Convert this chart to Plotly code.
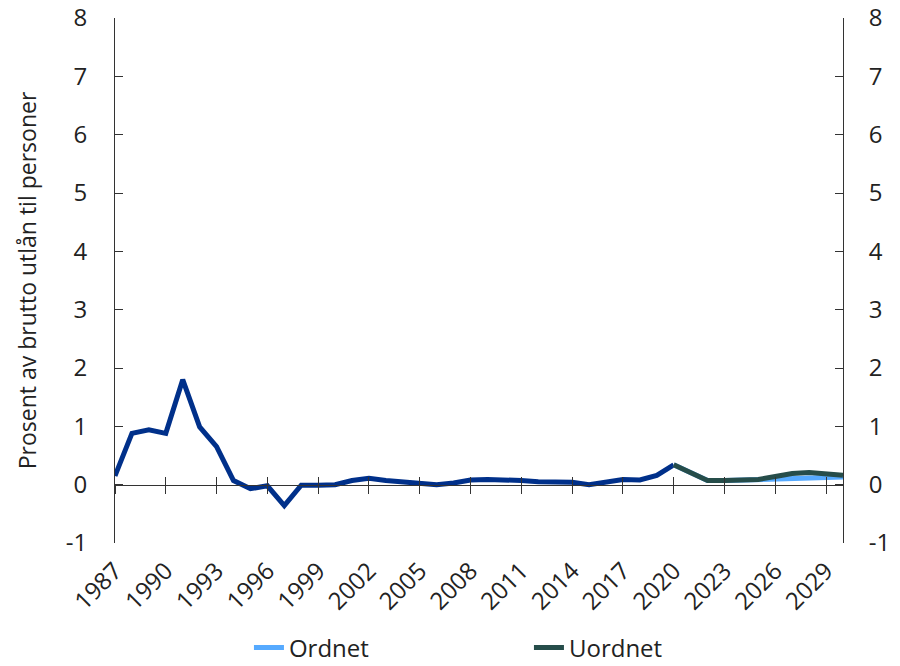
import plotly.graph_objects as go

# Historical loss rate, 1987-2020
hist_years = list(range(1987, 2021))
hist_values = [0.15, 0.88, 0.94, 0.88, 1.80, 0.99, 0.65, 0.07, -0.07, -0.02,
               -0.36, -0.01, -0.01, 0.00, 0.07, 0.11, 0.07, 0.05, 0.04, 0.00,
               0.03, 0.08, 0.09, 0.09, 0.07, 0.05, 0.05, 0.04, 0.00, 0.05,
               0.09, 0.08, 0.16, 0.34]

# Projection scenarios, 2020-2030
proj_years = list(range(2020, 2031))
ordnet = [0.34, 0.20, 0.07, 0.07, 0.08, 0.08, 0.10, 0.12, 0.13, 0.13, 0.13]
uordnet = [0.34, 0.20, 0.07, 0.07, 0.08, 0.09, 0.14, 0.19, 0.21, 0.19, 0.16]

tick_years = list(range(1987, 2030, 3))
tick_labels = [str(y) for y in tick_years]
y_ticks = list(range(-1, 9))
y_labels = [str(v) for v in y_ticks]   # plain hyphen for "-1"

FONT = "Open Sans"
AXIS = "#333333"
FS = 24

fig = go.Figure()
fig.add_trace(go.Scatter(x=hist_years, y=hist_values, mode="lines",
                         line=dict(color="#00308A", width=5),
                         showlegend=False, hoverinfo="skip"))
fig.add_trace(go.Scatter(x=proj_years, y=ordnet, mode="lines", name="Ordnet",
                         line=dict(color="#56AAFF", width=5)))
fig.add_trace(go.Scatter(x=proj_years, y=uordnet, mode="lines", name="Uordnet",
                         line=dict(color="#264D4A", width=5)))

x_common = dict(range=[1987, 2030], tickvals=tick_years, showgrid=False,
                zeroline=False, automargin=False)
y_common = dict(range=[-1, 8], tickvals=y_ticks, ticktext=y_labels,
                showgrid=False, zeroline=False, automargin=False,
                showline=True, linecolor=AXIS, linewidth=1,
                ticks="inside", ticklen=8, tickcolor=AXIS,
                tickfont=dict(size=FS))

fig.update_layout(
    width=900, height=666,
    margin=dict(l=115, r=57, t=18, b=123, autoexpand=False),
    paper_bgcolor="white", plot_bgcolor="white",
    font=dict(family=FONT, size=FS, color="#222222"),
    xaxis=dict(**x_common, ticktext=tick_labels, tickangle=-45,
               showline=False, ticks="", ticklabelstandoff=8,
               tickfont=dict(size=FS)),
    # zero line with ticks crossing it
    xaxis2=dict(**x_common, overlaying="x", anchor="free", position=1/9,
                showline=True, linecolor=AXIS, linewidth=1,
                ticks="outside", ticklen=8, tickcolor=AXIS,
                showticklabels=False),
    xaxis3=dict(**x_common, overlaying="x", anchor="free", position=1/9,
                showline=False, ticks="inside", ticklen=8, tickcolor=AXIS,
                showticklabels=False),
    yaxis=dict(**y_common, ticklabelstandoff=22,
               title=dict(text="Prosent av brutto utlån til personer",
                          font=dict(size=23), standoff=22)),
    yaxis2=dict(**y_common, overlaying="y", side="right",
                ticklabelstandoff=20),
    legend=dict(orientation="h", x=0.184, xanchor="left", y=-0.2,
                yanchor="middle", font=dict(size=FS), entrywidth=235,
                traceorder="normal", tracegroupgap=0),
)

# invisible traces so the secondary axes are drawn
fig.add_trace(go.Scatter(x=[1987], y=[0], xaxis="x2", yaxis="y2",
                         mode="markers", marker=dict(opacity=0),
                         showlegend=False, hoverinfo="skip"))
fig.add_trace(go.Scatter(x=[1987], y=[0], xaxis="x3", yaxis="y",
                         mode="markers", marker=dict(opacity=0),
                         showlegend=False, hoverinfo="skip"))

fig.write_html("out.html")
